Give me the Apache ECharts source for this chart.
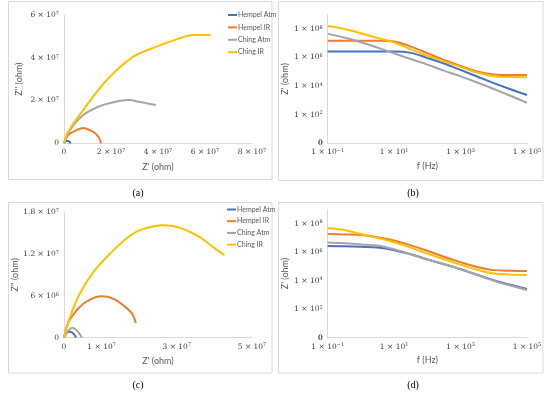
<!DOCTYPE html>
<html>
<head>
<meta charset="utf-8">
<script src="https://cdn.jsdelivr.net/npm/echarts@6/dist/echarts.min.js"></script>
<style>html,body{margin:0;padding:0;background:#fff}#c{width:550px;height:394px}</style>
</head>
<body>
<div id="c"></div>
<script>
// ---------- DATA ----------
const seriesNames = ['Hempel Atm', 'Hempel IR', 'Ching Atm', 'Ching IR'];
const seriesColors = ['#4472C4', '#ED7D31', '#A5A5A5', '#FFC000'];

// (a) Nyquist: [Z', Z'']
const aHempelAtm = [[0,0],[0.11e7,0.12e7],[0.23e7,0.08e7],[0.28e7,0]];
const aHempelIR  = [[0,0],[0.18e7,0.39e7],[0.54e7,0.62e7],[0.82e7,0.72e7],[1.1e7,0.62e7],[1.36e7,0.44e7],[1.53e7,0.16e7],[1.57e7,0]];
const aChingAtm  = [[0,0],[0.26e7,0.62e7],[0.82e7,1.32e7],[1.53e7,1.74e7],[2.1e7,1.92e7],[2.74e7,2.02e7],[3.3e7,1.92e7],[3.91e7,1.79e7]];
const aChingIR   = [[0,0],[0.18e7,0.55e7],[0.82e7,1.56e7],[1.82e7,2.96e7],[2.95e7,4.05e7],[3.94e7,4.52e7],[4.79e7,4.86e7],[5.5e7,5.06e7],[6.24e7,5.06e7]];

// (c) Nyquist: [Z', Z'']
const cHempelAtm = [[0,0],[0.07e7,0.67e6],[0.16e7,0.86e6],[0.27e7,0.48e6],[0.32e7,0]];
const cHempelIR  = [[0,0],[0.12e7,2.24e6],[0.42e7,4.4e6],[0.69e7,5.44e6],[1.0e7,5.92e6],[1.31e7,5.58e6],[1.58e7,4.63e6],[1.81e7,3.44e6],[1.91e7,2.1e6]];
const cChingAtm  = [[0,0],[0.12e7,1.05e6],[0.23e7,1.43e6],[0.34e7,1.05e6],[0.44e7,0.33e6],[0.47e7,0]];
const cChingIR   = [[0,0],[0.16e7,2.96e6],[0.42e7,6.3e6],[0.78e7,9.4e6],[1.22e7,12.0e6],[1.66e7,14.2e6],[2.02e7,15.4e6],[2.64e7,16.1e6],[3.08e7,15.75e6],[3.61e7,14.4e6],[3.96e7,13.0e6],[4.27e7,11.8e6]];

// Bode frequency grid (Hz)
const freq = [0.1, 0.316, 1, 3.16, 10, 31.6, 100, 316, 1000, 3160, 10000, 31600, 100000];

// (b) Z' vs f
const bHempelAtm = [2.6e6, 2.6e6, 2.6e6, 2.6e6, 2.6e6, 2.1e6, 9.3e5, 3.8e5, 1.35e5, 4.7e4, 1.6e4, 6.0e3, 2.4e3];
const bHempelIR  = [1.5e7, 1.5e7, 1.5e7, 1.5e7, 1.32e7, 5.8e6, 2.0e6, 6.8e5, 2.6e5, 1.05e5, 6.6e4, 6.0e4, 6.0e4];
const bChingAtm  = [4.5e7, 2.5e7, 1.17e7, 4.9e6, 1.95e6, 7.8e5, 3.2e5, 1.2e5, 4.8e4, 1.8e4, 6.3e3, 2.1e3, 6.9e2];
const bChingIR   = [1.58e8, 9.8e7, 5.0e7, 2.3e7, 1.15e7, 3.7e6, 1.32e6, 5.4e5, 2.2e5, 8.9e4, 4.9e4, 4.3e4, 4.2e4];

// (d) Z' vs f
const dHempelAtm = [2.7e6, 2.6e6, 2.4e6, 2.1e6, 1.38e6, 7.1e5, 3.1e5, 1.41e5, 6.3e4, 2.6e4, 1.1e4, 5.2e3, 2.6e3];
const dHempelIR  = [1.86e7, 1.74e7, 1.58e7, 1.12e7, 6.5e6, 3.0e6, 1.26e6, 4.8e5, 2.0e5, 9.1e4, 5.5e4, 5.0e4, 4.8e4];
const dChingAtm  = [4.7e6, 4.2e6, 3.5e6, 2.9e6, 1.58e6, 7.1e5, 3.1e5, 1.48e5, 6.5e4, 2.5e4, 1.0e4, 4.6e3, 2.2e3];
const dChingIR   = [4.7e7, 3.6e7, 1.86e7, 1.0e7, 5.0e6, 2.1e6, 8.1e5, 3.2e5, 1.35e5, 5.9e4, 3.2e4, 2.7e4, 2.5e4];

const captions = ['(a)', '(b)', '(c)', '(d)'];

// ---------- HELPERS ----------
const SERIF = 'DejaVu Serif';
const SANS = 'Lato';
const rich = {
  b: { fontFamily: SERIF, fontSize: 7.5, color: '#404040', lineHeight: 8 },
  s: { fontFamily: SERIF, fontSize: 5, color: '#404040', verticalAlign: 'top', lineHeight: 5 }
};
function sci(m, e) { return '{b|' + m + ' × 10}{s|' + (e < 0 ? '−' + (-e) : e) + '}'; }
function linFmt(v) {
  if (v === 0) return '{b|0}';
  const e = Math.floor(Math.log10(v) + 1e-9);
  const m = Math.round(v / Math.pow(10, e) * 10) / 10;
  return sci(m, e);
}
function logFmt(v) {
  const e = Math.round(Math.log10(v));
  if (e === 0) return '{b|0}';
  return sci(1, e);
}
const axisLineStyle = { show: true, lineStyle: { color: '#d9d9d9', width: 1 } };
const nameStyle = { fontFamily: SANS, fontSize: 9, color: '#595959' };
const LABEL_MARGIN = 5;

function linAxis(gi, min, max, interval, name, gap, fmt) {
  return {
    type: 'value', gridIndex: gi, min, max, interval,
    name, nameLocation: 'middle', nameGap: gap, nameTextStyle: nameStyle,
    axisLine: axisLineStyle, axisTick: { show: false }, splitLine: { show: false },
    axisLabel: { formatter: fmt || linFmt, rich, margin: LABEL_MARGIN, showMinLabel: true, showMaxLabel: true, hideOverlap: false }
  };
}
function logAxis(gi, min, max, name, gap, hideMax) {
  return {
    type: 'log', logBase: 10, gridIndex: gi, min, max, interval: 2,
    name, nameLocation: 'middle', nameGap: gap, nameTextStyle: nameStyle,
    axisLine: axisLineStyle, axisTick: { show: false }, splitLine: { show: false }, minorSplitLine: { show: false },
    axisLabel: { formatter: logFmt, rich, margin: LABEL_MARGIN, showMinLabel: true, showMaxLabel: !hideMax, hideOverlap: false }
  };
}
function lineSeries(name, idx, xi, yi, data) {
  return {
    type: 'line', name, xAxisIndex: xi, yAxisIndex: yi, data,
    showSymbol: false, symbol: 'none', smooth: 0.35,
    lineStyle: { color: seriesColors[idx], width: 2 }, itemStyle: { color: seriesColors[idx] },
    emphasis: { disabled: true }
  };
}
const zipF = vals => freq.map((f, i) => [f, vals[i]]);

// ---------- LAYOUT ----------
const grids = [
  { left: 64, top: 15, width: 188, height: 128.3 },
  { left: 327.7, top: 14.6, width: 199.3, height: 128.7 },
  { left: 64, top: 212, width: 188, height: 125.7 },
  { left: 327.7, top: 209.4, width: 199.3, height: 128.3 }
];

const chart = echarts.init(document.getElementById('c'), null, { renderer: 'canvas' });

const frames = [[8.5, 1.5, 263.5, 178], [278.5, 1.5, 264.5, 179], [8.5, 202.5, 263.5, 170.5], [278.5, 202.5, 264.5, 170.5]];
const capPos = [[138, 193], [413, 193], [138, 385], [413, 385]];
const graphics = [];
frames.forEach(f => graphics.push({ type: 'rect', shape: { x: f[0], y: f[1], width: f[2], height: f[3] }, style: { fill: null, stroke: '#d9d9d9', lineWidth: 1 }, silent: true, z: -1 }));
capPos.forEach((p, i) => graphics.push({ type: 'text', x: p[0], y: p[1], style: { text: captions[i], font: '10px "Liberation Serif"', fill: '#000', textAlign: 'center', textVerticalAlign: 'middle' }, silent: true }));
// Bottom label "0" of the log y-axes (Z' = 1), which ECharts hides where it meets the x-axis labels:
// put it at the lower-left corner of grids (b) and (d).
[1, 3].forEach(gi => {
  const g = grids[gi];
  graphics.push({
    type: 'text', x: g.left - LABEL_MARGIN, y: g.top + g.height, z: 50,
    style: { text: '0', font: '7.5px "' + SERIF + '"', fill: '#404040', textAlign: 'right', textVerticalAlign: 'middle' },
    silent: true
  });
});

const cFmt = v => (v === 2e7 || v === 4e7) ? '' : linFmt(v);

const legendCommon = {
  orient: 'vertical', icon: 'rect', itemWidth: 9, itemHeight: 2,
  textStyle: { fontFamily: SANS, fontSize: 7, color: '#595959', lineHeight: 8, padding: [0, 0, 0, -4] },
  data: seriesNames, selectedMode: false, padding: 0
};

chart.setOption({
  animation: false,
  backgroundColor: '#fff',
  graphic: { elements: graphics },
  legend: [
    Object.assign({}, legendCommon, { left: 228, top: 11, itemGap: 4.4 }),
    Object.assign({}, legendCommon, { left: 227, top: 205.5, itemGap: 3.7 })
  ],
  grid: grids,
  xAxis: [
    linAxis(0, 0, 8e7, 2e7, "Z' (ohm)", 19),
    logAxis(1, 0.1, 1e5, 'f (Hz)', 18, false),
    linAxis(2, 0, 5e7, 1e7, "Z' (ohm)", 19, cFmt),
    logAxis(3, 0.1, 1e5, 'f (Hz)', 18, false)
  ],
  yAxis: [
    linAxis(0, 0, 6e7, 2e7, "Z'' (ohm)", 40),
    logAxis(1, 1, 1e9, "Z' (ohm)", 38, true),
    linAxis(2, 0, 1.8e7, 6e6, "Z'' (ohm)", 40),
    logAxis(3, 1, 1e9, "Z' (ohm)", 38, true)
  ],
  series: [
    lineSeries('Hempel Atm', 0, 0, 0, aHempelAtm),
    lineSeries('Hempel IR', 1, 0, 0, aHempelIR),
    lineSeries('Ching Atm', 2, 0, 0, aChingAtm),
    lineSeries('Ching IR', 3, 0, 0, aChingIR),
    lineSeries('Hempel Atm', 0, 1, 1, zipF(bHempelAtm)),
    lineSeries('Hempel IR', 1, 1, 1, zipF(bHempelIR)),
    lineSeries('Ching Atm', 2, 1, 1, zipF(bChingAtm)),
    lineSeries('Ching IR', 3, 1, 1, zipF(bChingIR)),
    lineSeries('Hempel Atm', 0, 2, 2, cHempelAtm),
    lineSeries('Hempel IR', 1, 2, 2, cHempelIR),
    lineSeries('Ching Atm', 2, 2, 2, cChingAtm),
    lineSeries('Ching IR', 3, 2, 2, cChingIR),
    lineSeries('Hempel Atm', 0, 3, 3, zipF(dHempelAtm)),
    lineSeries('Hempel IR', 1, 3, 3, zipF(dHempelIR)),
    lineSeries('Ching Atm', 2, 3, 3, zipF(dChingAtm)),
    lineSeries('Ching IR', 3, 3, 3, zipF(dChingIR))
  ]
});
</script>
</body>
</html>
